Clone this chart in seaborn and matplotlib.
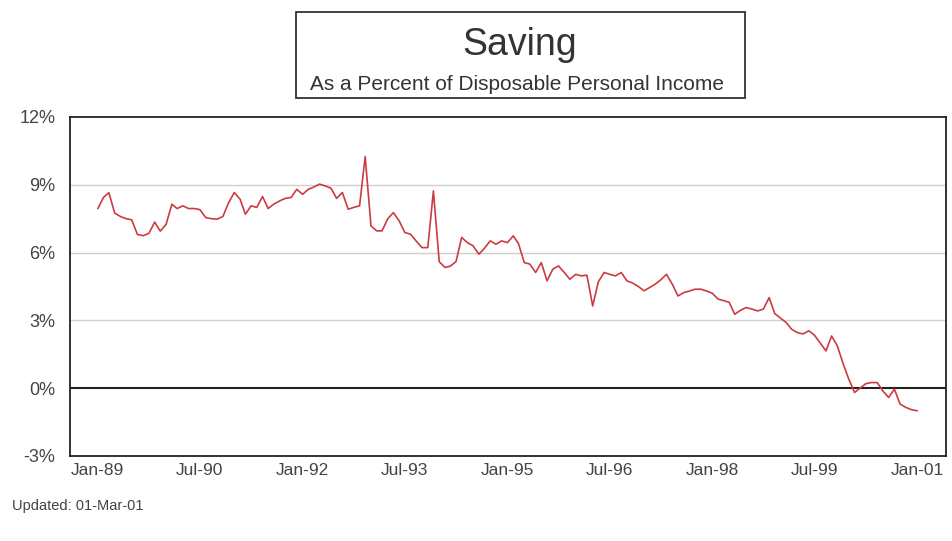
import numpy as np
import pandas as pd
import matplotlib
matplotlib.use("Agg")
import matplotlib.pyplot as plt
from matplotlib.patches import Rectangle
import seaborn as sns

# ---- data (monthly personal saving rate, % of disposable income) ----
start_month = "1989-01-01"
saving_rate = [
    7.95, 8.45, 8.65, 7.75, 7.60, 7.50, 7.45, 6.80, 6.75, 6.85,
    7.35, 6.95, 7.25, 8.14, 7.95, 8.07, 7.95, 7.95, 7.90, 7.55,
    7.50, 7.48, 7.60, 8.20, 8.66, 8.36, 7.70, 8.07, 8.00, 8.48,
    7.95, 8.15, 8.29, 8.40, 8.44, 8.80, 8.58, 8.80, 8.90, 9.03,
    8.95, 8.85, 8.40, 8.66, 7.92, 8.00, 8.07, 10.25, 7.18, 6.96,
    6.96, 7.50, 7.77, 7.40, 6.89, 6.81, 6.50, 6.22, 6.22, 8.73,
    5.60, 5.34, 5.40, 5.60, 6.67, 6.44, 6.30, 5.93, 6.20, 6.52,
    6.37, 6.52, 6.44, 6.74, 6.40, 5.56, 5.49, 5.12, 5.56, 4.75,
    5.27, 5.41, 5.12, 4.82, 5.04, 4.97, 5.00, 3.64, 4.70, 5.12,
    5.04, 4.97, 5.12, 4.75, 4.65, 4.50, 4.31, 4.46, 4.60, 4.80,
    5.04, 4.60, 4.08, 4.23, 4.30, 4.38, 4.38, 4.30, 4.20, 3.94,
    3.88, 3.80, 3.27, 3.45, 3.57, 3.50, 3.42, 3.50, 4.01, 3.30,
    3.10, 2.90, 2.61, 2.46, 2.40, 2.54, 2.35, 2.00, 1.65, 2.31,
    1.87, 1.10, 0.40, -0.19, 0.00, 0.20, 0.25, 0.25, -0.12, -0.41,
    -0.04, -0.70, -0.85, -0.95, -1.00,
]
y_ticks = [-3, 0, 3, 6, 9, 12]
y_tick_labels = ["-3%", "0%", "3%", "6%", "9%", "12%"]
x_tick_dates = ["1989-01-01", "1990-07-01", "1992-01-01", "1993-07-01",
                "1995-01-01", "1996-07-01", "1998-01-01", "1999-07-01",
                "2001-01-01"]
x_tick_labels = ["Jan-89", "Jul-90", "Jan-92", "Jul-93", "Jan-95",
                 "Jul-96", "Jan-98", "Jul-99", "Jan-01"]
title = "Saving"
subtitle = "As a Percent of Disposable Personal Income"
footnote = "Updated: 01-Mar-01"

df = pd.DataFrame({
    "month": pd.date_range(start_month, periods=len(saving_rate), freq="MS"),
    "rate": saving_rate,
})

sns.set_style("white")
plt.rcParams["font.family"] = ["Liberation Sans", "DejaVu Sans"]

fig = plt.figure(figsize=(9.52, 5.41), dpi=100)
W, H = 952, 541
ax = fig.add_axes([70 / W, 1 - 456 / H, 876 / W, 339 / H])

sns.lineplot(data=df, x="month", y="rate", ax=ax, color="#cc3b3f",
             linewidth=1.2, zorder=3)

ax.set_ylim(-3, 12)
ax.set_xlim(pd.Timestamp("1988-08-05"), pd.Timestamp("2001-06-04"))
ax.set_yticks(y_ticks)
ax.set_yticklabels(y_tick_labels)
ax.set_xticks(pd.to_datetime(x_tick_dates))
ax.set_xticklabels(x_tick_labels)
ax.set_xlabel("")
ax.set_ylabel("")

for v in [3, 6, 9]:
    ax.axhline(v, color="#cfcfcf", linewidth=1.0, zorder=1)
ax.axhline(0, color="#222222", linewidth=1.5, zorder=2)

for s in ax.spines.values():
    s.set_visible(True)
    s.set_color("#222222")
    s.set_linewidth(1.3)

ax.tick_params(axis="y", direction="in", length=8, width=1.3,
               color="#333333", labelsize=13, labelcolor="#444444", pad=10.5)
ax.tick_params(axis="x", length=0, labelsize=12.5, labelcolor="#444444", pad=5)

# title box
fig.add_artist(Rectangle((296 / W, 1 - 98 / H), 449 / W, 86 / H,
                         transform=fig.transFigure, fill=False,
                         edgecolor="#333333", linewidth=1.3))
fig.text(520 / W, 1 - 55 / H, title, ha="center", va="baseline",
         fontsize=27, color="#333333")
fig.text(517 / W, 1 - 90 / H, subtitle, ha="center", va="baseline",
         fontsize=15, color="#333333")
fig.text(12 / W, 1 - 510 / H, footnote, ha="left", va="baseline",
         fontsize=10.5, color="#444444")

fig.savefig("out.png", dpi=100, facecolor="white")
